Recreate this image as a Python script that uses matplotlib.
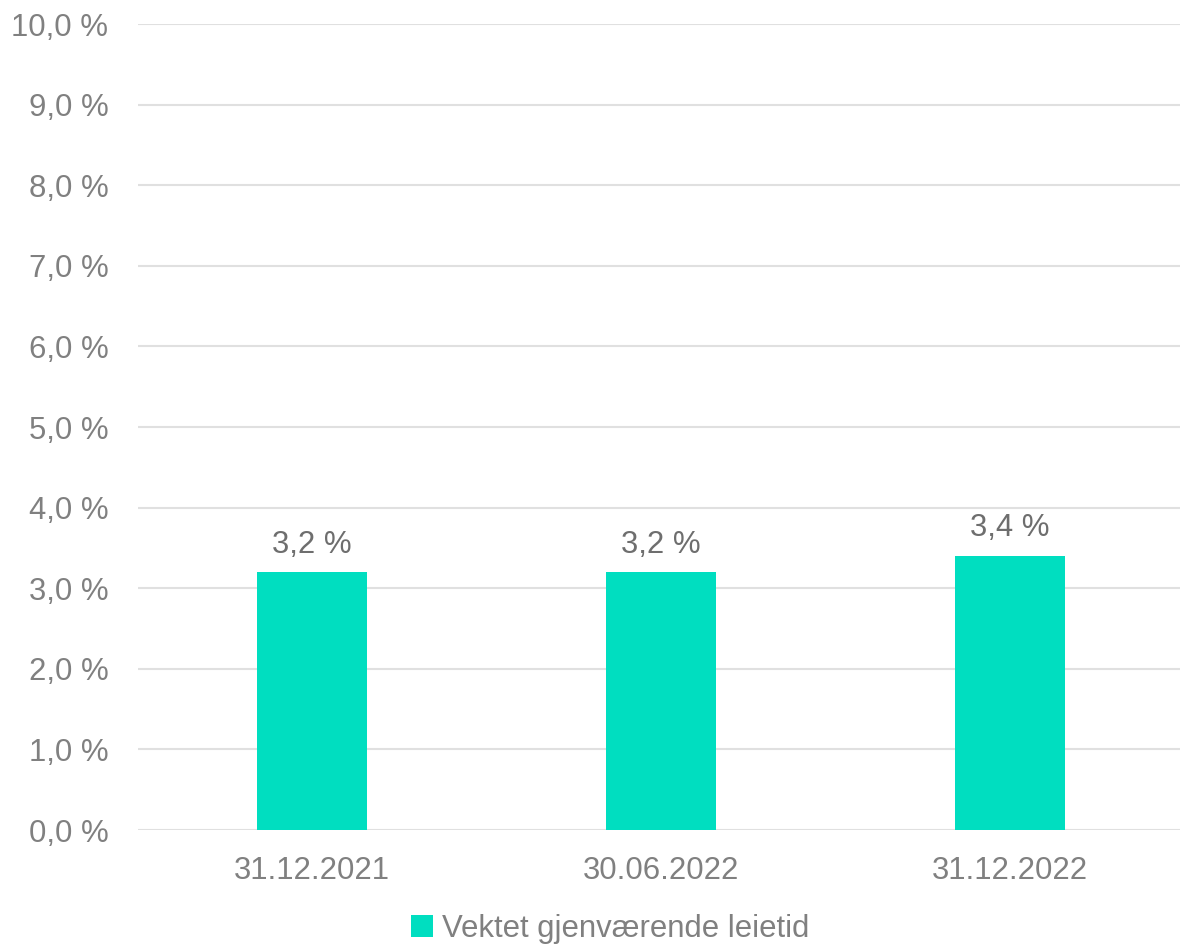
import matplotlib
matplotlib.use("Agg")
import matplotlib.pyplot as plt
from matplotlib.patches import Patch

categories = ["31.12.2021", "30.06.2022", "31.12.2022"]
values = [3.2, 3.2, 3.4]
series_name = "Vektet gjenværende leietid"
y_ticks = [0, 1, 2, 3, 4, 5, 6, 7, 8, 9, 10]

bar_color = "#00DEC0"
text_color = "#808080"
label_color = "#6E6E6E"
grid_color = "#E0E0E0"
fsize = 22.4

plt.rcParams["font.family"] = ["Liberation Sans", "DejaVu Sans"]

fig = plt.figure(figsize=(11.8, 9.47), dpi=100)
ax = fig.add_axes([137.5 / 1180, 1 - 830 / 947, 1047 / 1180, (830 - 24) / 947])

x = range(len(categories))
bars = ax.bar(x, values, width=0.313, color=bar_color, zorder=3)

ax.set_xlim(-0.5, len(categories) - 0.5)
ax.set_ylim(0, 10)
ax.set_yticks(y_ticks)
ax.set_yticklabels([f"{t:.1f} %".replace(".", ",") for t in y_ticks])
ax.set_xticks(list(x))
ax.set_xticklabels(categories)
ax.tick_params(axis="both", length=0, labelsize=fsize, colors=text_color)
ax.tick_params(axis="y", pad=21)
ax.tick_params(axis="x", pad=19)

ax.yaxis.grid(True, color=grid_color, linewidth=1.5, zorder=0)
for spine in ax.spines.values():
    spine.set_visible(False)

for rect, v in zip(bars, values):
    ax.annotate(f"{v:.1f} %".replace(".", ","),
                (rect.get_x() + rect.get_width() / 2, v),
                xytext=(0, 9), textcoords="offset points",
                ha="center", va="bottom", fontsize=fsize, color=label_color)

handle = Patch(facecolor=bar_color, edgecolor="none")
fig.legend([handle], [series_name], loc="center", bbox_to_anchor=(610 / 1180, 1 - 929 / 947),
           frameon=False, fontsize=fsize, labelcolor=text_color,
           handlelength=0.7, handleheight=0.7, handletextpad=0.3)

fig.savefig("out.png", dpi=100)
